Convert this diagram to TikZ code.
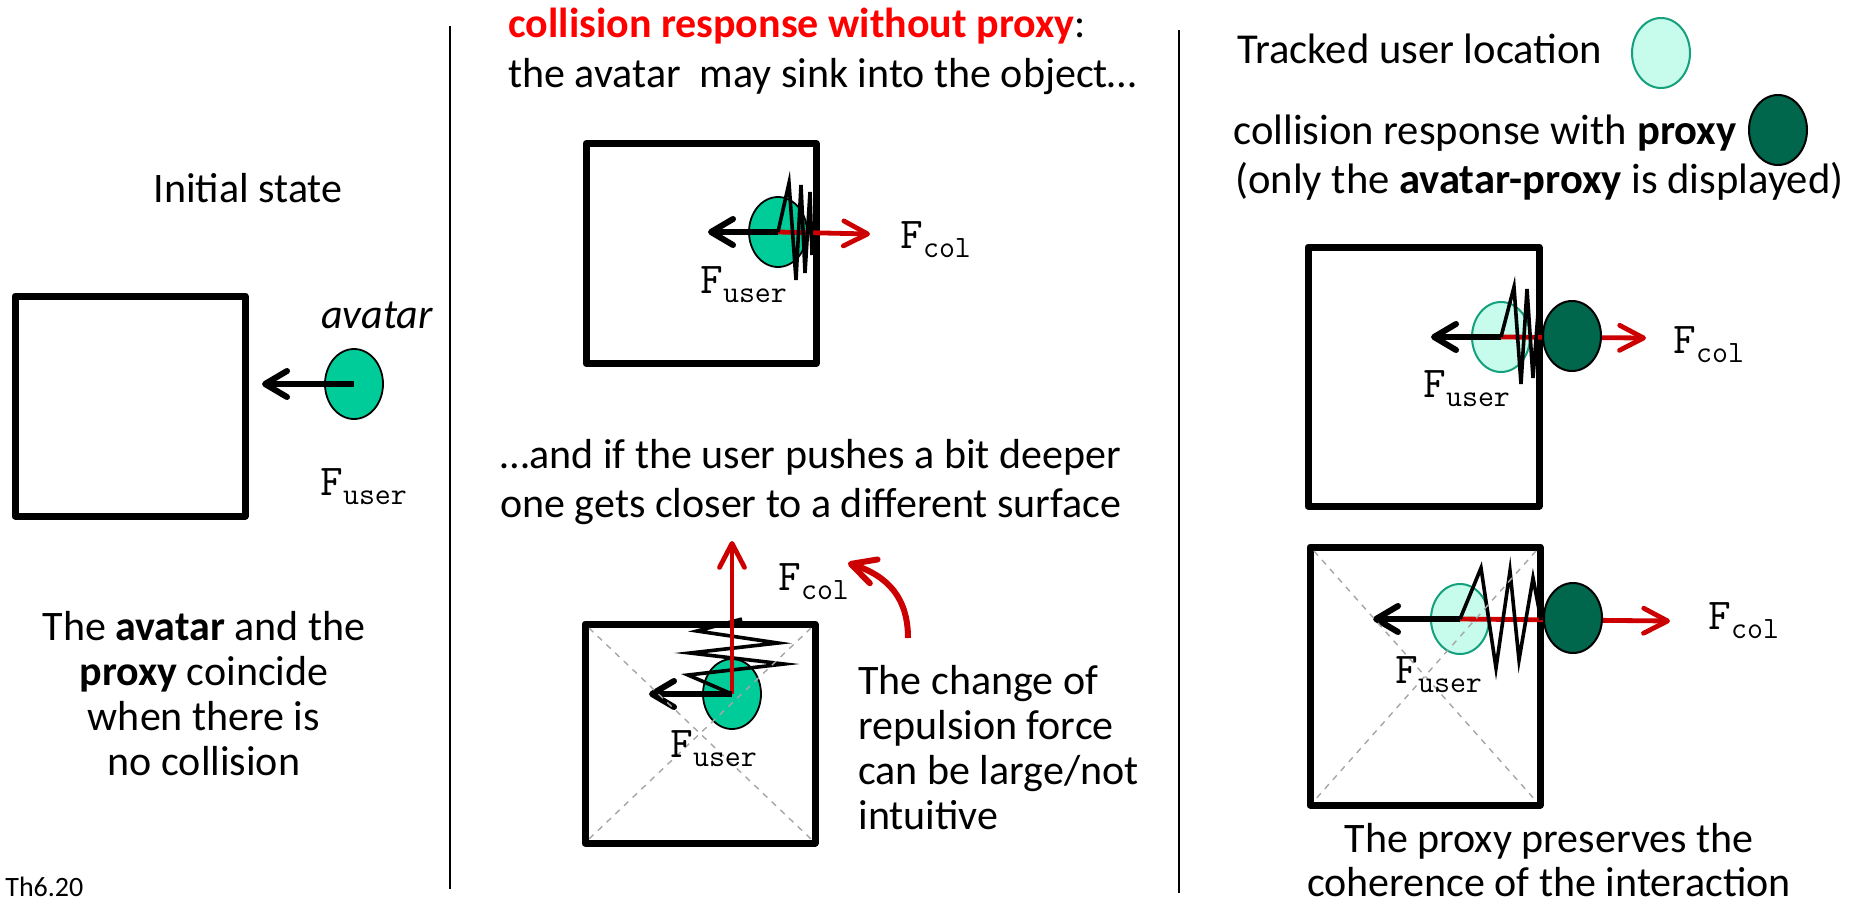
\documentclass[tikz,border=0pt]{standalone}
\usepackage{fontspec}
\setmainfont{Carlito}
\usetikzlibrary{arrows.meta,shapes.geometric}
\definecolor{avgreen}{RGB}{0,204,153}
\definecolor{mint}{RGB}{199,252,236}
\definecolor{mintline}{RGB}{20,160,125}
\definecolor{proxygreen}{RGB}{0,102,76}
\definecolor{arrred}{RGB}{204,0,0}
\definecolor{titlered}{RGB}{255,0,0}
\newcommand{\mainsz}{\fontsize{21pt}{25.5pt}\selectfont}
\newcommand{\rightsz}{\fontsize{21.3pt}{25.5pt}\selectfont}
\newcommand{\Fsub}[1]{{\ttfamily\fontsize{22pt}{22pt}\selectfont F\raisebox{-4.5pt}{\fontsize{15.5pt}{15.5pt}\selectfont #1}}}
\begin{document}
\begin{tikzpicture}[x=0.5pt,y=-0.5pt,
  txt/.style={anchor=base west,inner sep=0pt,font=\mainsz},
  rtxt/.style={anchor=base west,inner sep=0pt,font=\rightsz},
  ctxt/.style={anchor=base,inner sep=0pt,font=\mainsz},
  flabel/.style={anchor=base west,inner sep=0pt},
  objbox/.style={line width=3.5pt,line join=round},
  diag/.style={draw=black!35,dashed,line width=0.7pt},
  divider/.style={line width=1pt},
  avatar/.style={ellipse,draw=black,line width=0.9pt,fill=avgreen,minimum width=29pt,minimum height=35pt,inner sep=0pt},
  tracked/.style={ellipse,draw=mintline,line width=1pt,fill=mint,minimum width=29pt,minimum height=35pt,inner sep=0pt},
  proxy/.style={ellipse,draw=black,line width=1pt,fill=proxygreen,minimum width=29pt,minimum height=35pt,inner sep=0pt},
  fuser/.style={line width=3pt,-{Straight Barb[length=11pt,width=13pt,line cap=round,line join=round]}},
  fcol/.style={draw=arrred,line width=2.4pt,-{Straight Barb[length=12pt,width=12.5pt,line cap=round,line join=round]}},
  spring/.style={line width=1.8pt,line join=miter},
]
\useasboundingbox (0,0) rectangle (1854,905);

% dividers
\draw[divider] (450,26) -- (450,889);
\draw[divider] (1179,30) -- (1179,893);

% ---------- left panel ----------
\node[ctxt] (init) at (248,202) {Initial state};
\draw[objbox] (15,296) rectangle (245,516);
\node[avatar] (av1) at (354,384) {};
\coordinate (t1) at (262,384);
\draw[fuser] (av1.center) -- (t1);
\node[ctxt,font=\mainsz\itshape] (avlab) at (377,328) {avatar};
\node[flabel] (fu1) at (320,495) {\Fsub{user}};
\node[ctxt] (l1) at (204,640) {The \textbf{avatar} and the};
\node[ctxt] (l2) at (204,685) {\textbf{proxy} coincide};
\node[ctxt] (l3) at (204,730) {when there is};
\node[ctxt] (l4) at (204,775) {no collision};
\node[anchor=base west,inner sep=0pt,font=\fontsize{14pt}{14pt}\selectfont] (th) at (5,896) {Th6.20};

% ---------- middle panel ----------
\node[txt] (title) at (508,37) {\textcolor{titlered}{\bfseries collision response without proxy}:};
\node[txt] (sink) at (508,87) {the avatar\ \ may sink into the object…};
\draw[objbox] (586,143.5) rectangle (816,363.5);
\node[avatar] (av2) at (778,232) {};
\coordinate (t2u) at (708,232);
\coordinate (t2c) at (870,234);
\draw[fcol] (av2.center) -- (t2c);
\draw[spring] (av2.center) -- (789,183) -- (796,280) -- (801,185) -- (805,273) -- (810,192) -- (812,255);
\draw[fuser] (av2.center) -- (t2u);
\node[flabel] (fu2) at (700,293) {\Fsub{user}};
\node[flabel] (fc2) at (900,248) {\Fsub{col}};

\node[txt] (deep1) at (500,468) {…and if the user pushes a bit deeper};
\node[txt] (deep2) at (500,517) {one gets closer to a different surface};

\draw[objbox] (585,624) rectangle (815,843);
\node[avatar] (av3) at (732,694) {};
\coordinate (t3u) at (649,694);
\coordinate (t3c) at (732,541);
\draw[spring] (av3.center) -- (688,675) -- (784,664) -- (690,653) -- (778,643) -- (697,631) -- (742,619);
\draw[fcol] (av3.center) -- (t3c);
\draw[fuser] (av3.center) -- (t3u);
\draw[diag] (589,628) -- (811,839);
\draw[diag] (811,628) -- (589,839);
\node[flabel] (fu3) at (670,757) {\Fsub{user}};
\node[flabel] (fc3) at (778,590) {\Fsub{col}};
\coordinate (cs) at (908,638);
\coordinate (ce) at (848,563);
\draw[fcol,line width=3pt] (cs) .. controls (908,598) and (888,576) .. (ce);
\node[txt] (ch1) at (858,694) {The change of};
\node[txt] (ch2) at (858,739) {repulsion force};
\node[txt] (ch3) at (858,784) {can be large/not};
\node[txt] (ch4) at (858,829) {intuitive};

% ---------- right panel ----------
\node[rtxt] (trk) at (1237,63) {Tracked user location};
\node[tracked] (legtr) at (1661,53) {};
\node[rtxt] (cwp) at (1233,144) {collision response with \textbf{proxy}};
\node[proxy] (legpx) at (1778,130) {};
\node[rtxt] (only) at (1235,193) {(only the \textbf{avatar-proxy} is displayed)};

\draw[objbox] (1308,247) rectangle (1539,506);
\node[tracked] (tr1) at (1501,337) {};
\coordinate (t4u) at (1431,337);
\coordinate (t4c) at (1646,338);
\draw[fcol] (tr1.center) -- (t4c);
\node[proxy] (px1) at (1572,336) {};
\draw[fuser] (tr1.center) -- (t4u);
\draw[spring] (tr1.center) -- (1514,287) -- (1521,384) -- (1527,289) -- (1533,378) -- (1539,300);
\node[flabel] (fu4) at (1423,397) {\Fsub{user}};
\node[flabel] (fc4) at (1673,353) {\Fsub{col}};

\draw[objbox] (1310,547) rectangle (1540,805);
\node[tracked] (tr2) at (1460,619) {};
\coordinate (t5u) at (1373,619);
\coordinate (t5c) at (1670,621);
\draw[fcol] (tr2.center) -- (t5c);
\node[proxy] (px2) at (1573,618) {};
\draw[fuser] (tr2.center) -- (t5u);
\draw[spring] (tr2.center) -- (1481,568) -- (1496,668) -- (1510,571) -- (1519,660) -- (1533,578) -- (1541,620);
\draw[diag] (1314,551) -- (1536,801);
\draw[diag] (1536,551) -- (1314,801);
\node[flabel] (fu5) at (1395,683) {\Fsub{user}};
\node[flabel] (fc5) at (1708,629) {\Fsub{col}};

\node[ctxt] (pr1) at (1549,852) {The proxy preserves the};
\node[ctxt] (pr2) at (1549,896) {coherence of the interaction};
\end{tikzpicture}
\end{document}
